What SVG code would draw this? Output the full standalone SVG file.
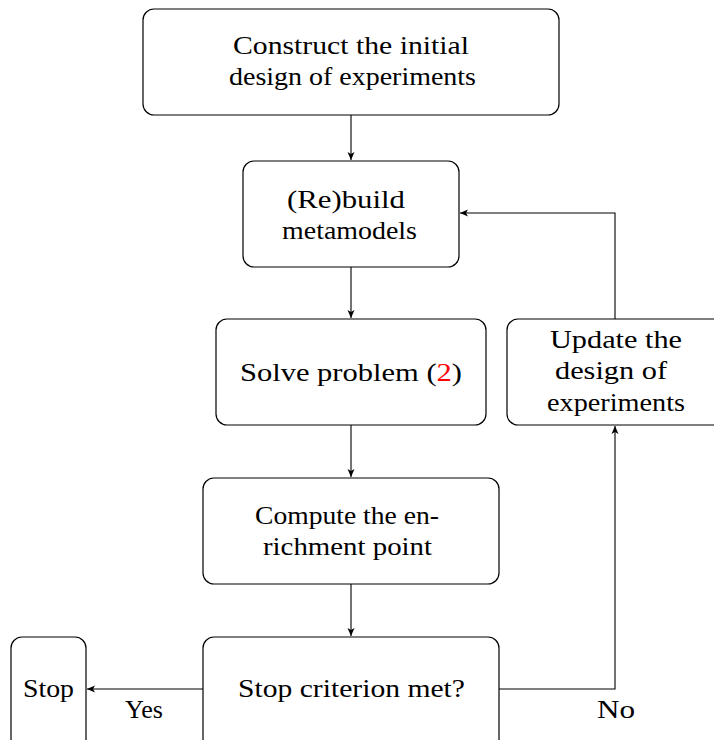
<svg xmlns="http://www.w3.org/2000/svg" width="714" height="740" viewBox="0 0 714 740">
<defs>
<marker id="ah" markerWidth="10" markerHeight="8" refX="8" refY="4" orient="auto" markerUnits="userSpaceOnUse">
<path d="M0,0.5 L8,4 L0,7.5 L2,4 Z" fill="#000"/>
</marker>
<style>
.box{fill:#fff;stroke:#000;stroke-width:1.2}
.t{font-family:"Liberation Serif","DejaVu Serif",serif;font-size:26px;fill:#000;text-anchor:middle}
.c{fill:none;stroke:#000;stroke-width:1.1}
</style>
</defs>
<rect width="714" height="740" fill="#fff"/>
<g id="n1"><rect class="box" x="143" y="9" width="416" height="106" rx="11"/>
<text class="t" x="351" y="54" textLength="236" lengthAdjust="spacingAndGlyphs">Construct the initial</text>
<text class="t" x="352.5" y="85" textLength="247" lengthAdjust="spacingAndGlyphs">design of experiments</text></g>
<g id="n2"><rect class="box" x="243" y="161" width="216" height="106" rx="11"/>
<text class="t" x="346" y="208" textLength="118" lengthAdjust="spacingAndGlyphs">(Re)build</text>
<text class="t" x="349.5" y="239" textLength="135" lengthAdjust="spacingAndGlyphs">metamodels</text></g>
<g id="n3"><rect class="box" x="216" y="319" width="270" height="106" rx="11"/>
<text class="t" x="351" y="381" textLength="222" lengthAdjust="spacingAndGlyphs">Solve problem (<tspan fill="#f00">2</tspan>)</text></g>
<g id="n4"><rect class="box" x="203" y="478" width="296" height="106" rx="11"/>
<text class="t" x="347" y="524" textLength="184" lengthAdjust="spacingAndGlyphs">Compute the en-</text>
<text class="t" x="347.5" y="555" textLength="169" lengthAdjust="spacingAndGlyphs">richment point</text></g>
<g id="n5"><rect class="box" x="203" y="637" width="296" height="120" rx="11"/>
<text class="t" x="351.5" y="697" textLength="227" lengthAdjust="spacingAndGlyphs">Stop criterion met?</text></g>
<g id="n6"><rect class="box" x="11" y="637" width="75" height="120" rx="11"/>
<text class="t" x="48.5" y="697" textLength="51" lengthAdjust="spacingAndGlyphs">Stop</text></g>
<g id="n7"><rect class="box" x="507" y="319" width="220" height="106" rx="11"/>
<text class="t" x="616" y="348" textLength="132" lengthAdjust="spacingAndGlyphs">Update the</text>
<text class="t" x="611" y="379" textLength="112" lengthAdjust="spacingAndGlyphs">design of</text>
<text class="t" x="616" y="411" textLength="138" lengthAdjust="spacingAndGlyphs">experiments</text></g>
<g id="connectors">
<line class="c" x1="351" y1="115" x2="351" y2="160" marker-end="url(#ah)"/>
<line class="c" x1="351" y1="267" x2="351" y2="318" marker-end="url(#ah)"/>
<line class="c" x1="351" y1="425" x2="351" y2="477" marker-end="url(#ah)"/>
<line class="c" x1="351" y1="584" x2="351" y2="636" marker-end="url(#ah)"/>
<polyline class="c" points="615,319 615,213 460,213" marker-end="url(#ah)"/>
<polyline class="c" points="499,689 615,689 615,426" marker-end="url(#ah)"/>
<line class="c" x1="203" y1="689" x2="87" y2="689" marker-end="url(#ah)"/>
<text class="t" x="144" y="718" textLength="38" lengthAdjust="spacingAndGlyphs">Yes</text>
<text class="t" x="616" y="718" textLength="38" lengthAdjust="spacingAndGlyphs">No</text>
</g>
</svg>
